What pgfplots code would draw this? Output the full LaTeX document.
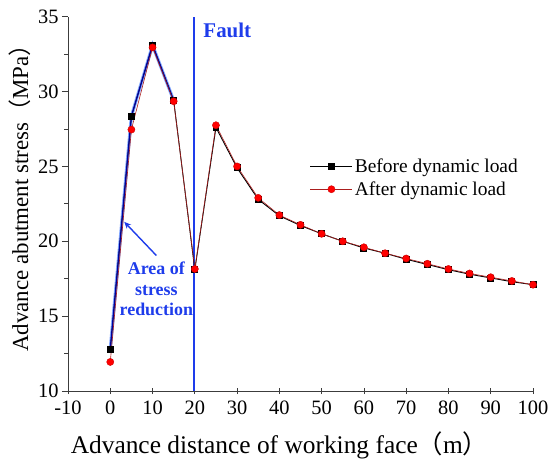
\documentclass[border=0pt]{standalone}
\usepackage{pgfplots}
\pgfplotsset{compat=1.18}
\usetikzlibrary{arrows.meta}
\usepackage{fontspec}
\setmainfont{Liberation Serif}
\newfontfamily\cjk{Noto Sans CJK SC}
\definecolor{fblue}{RGB}{30,60,235}
\definecolor{dred}{RGB}{170,30,30}
\definecolor{axgray}{RGB}{60,60,60}
\begin{document}
\begin{tikzpicture}
\useasboundingbox (-68bp,-70bp) rectangle (480bp,391bp);
\begin{axis}[
  at={(0,0)}, anchor=south west,
  scale only axis, width=465bp, height=374.3bp,
  xmin=-10, xmax=100, ymin=10, ymax=35,
  axis x line*=bottom, axis y line*=left,
  axis line style={axgray, line width=0.9pt},
  xtick={-10,0,...,100}, ytick={10,15,...,35},
  minor y tick num=1,
  xtick align=center, ytick align=outside,
  major tick length=6bp, minor tick length=3.5bp,
  tick style={line width=0.8pt, axgray},
  /pgf/number format/assume math mode=true,
  ticklabel style={font=\fontsize{20.5}{24}\selectfont},
  xticklabel style={yshift=-3bp},
  xlabel={Advance distance of working face{\cjk（}m{\cjk）}},
  ylabel={Advance abutment stress{\cjk（}MPa{\cjk）}},
  xlabel style={font=\fontsize{25.5}{28}\selectfont, at={(axis description cs:0.455,-0.166)}, anchor=base},
  ylabel style={font=\fontsize{23}{25}\selectfont, at={(axis description cs:-0.086,0.53)}, anchor=base},
  legend style={draw=none, fill=none, font=\fontsize{19.5}{22}\selectfont, at={(0.52,0.627)}, anchor=north west, row sep=4pt, inner xsep=0pt, inner ysep=0pt},
  legend image code/.code={\draw[mark repeat=2,mark phase=2,#1] plot coordinates {(0bp,0bp)(21bp,0bp)(42bp,0bp)};},
  legend cell align=left,
  clip=false,
]
\addplot[fblue, line width=1.5pt, forget plot] coordinates {(19.75,10)(19.75,35)};
\addplot[blue!70!cyan, line width=3.2pt, opacity=0.5, forget plot] coordinates {(0,12.8)(5,28.35)(10,33.1)(15,29.4)};
\addplot[black, line width=0.9pt, mark=square*, mark size=3pt, mark options={fill=black}] coordinates {
(0,12.76)(5,28.35)(10,33.1)(15,29.4)(20,18.1)(25,27.6)(30,24.9)(35,22.8)(40,21.7)(45,21.05)(50,20.5)(55,20.0)(60,19.55)(65,19.2)(70,18.8)(75,18.45)(80,18.1)(85,17.8)(90,17.55)(95,17.3)(100,17.1)};
\addlegendentry{Before dynamic load}
\addplot[blue!60!black, line width=1.2pt, forget plot] coordinates {(0,12.8)(5,28.35)(10,33.1)(15,29.4)};
\addplot[dred, line width=0.6pt, mark=*, mark size=3.6pt, mark options={fill=red, draw=red!80!black, line width=0.4pt}] coordinates {
(0,11.94)(5,27.46)(10,32.95)(15,29.35)(20,18.15)(25,27.75)(30,25.0)(35,22.9)(40,21.75)(45,21.1)(50,20.5)(55,20.0)(60,19.6)(65,19.2)(70,18.85)(75,18.5)(80,18.15)(85,17.85)(90,17.6)(95,17.35)(100,17.1)};
\addlegendentry{After dynamic load}
\node[fblue, font=\bfseries\fontsize{21}{24}\selectfont, anchor=west, inner sep=0pt] at (axis cs:22,34.1) {Fault};
\node[fblue, font=\bfseries\fontsize{18}{20.5}\selectfont, align=center] at (axis cs:10.9,16.8) {Area of\\stress\\reduction};
\draw[fblue, line width=1.4pt, -{Stealth[length=7pt,width=6pt]}] (axis cs:10.9,19.05) -- (axis cs:3.3,21.3);
\end{axis}
\end{tikzpicture}
\end{document}
